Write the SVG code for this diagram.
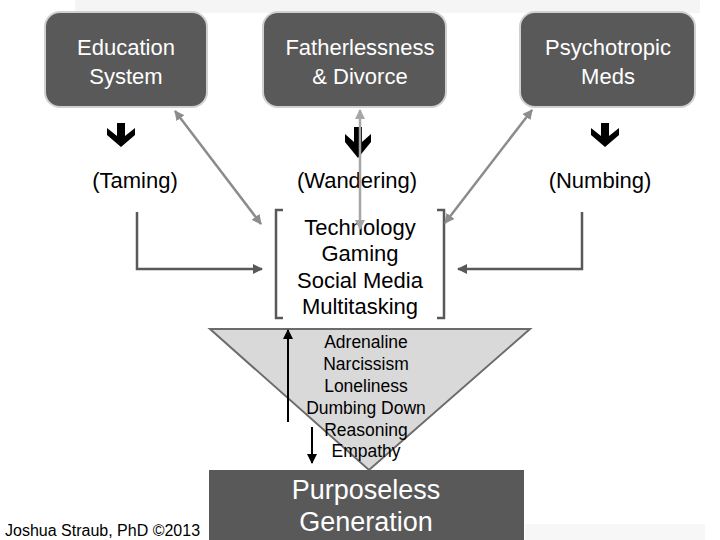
<svg xmlns="http://www.w3.org/2000/svg" width="720" height="540" viewBox="0 0 720 540">
<defs>
<style>
.box{fill:#595959;stroke:#d0d0d0;stroke-width:2}
.wt{fill:#ffffff;font-family:"Liberation Sans",Arial,sans-serif;font-size:22px;text-anchor:middle}
.bt{fill:#000000;font-family:"Liberation Sans",Arial,sans-serif;font-size:22px;text-anchor:middle}
.st{fill:#000000;font-family:"Liberation Sans",Arial,sans-serif;font-size:17.5px;text-anchor:middle}
.gl{stroke:#8c8c8c;stroke-width:2.5;fill:none}
.gl2{stroke:#a6a6a6;stroke-width:2.5;fill:none}
.dl{stroke:#595959;stroke-width:2.5;fill:none}
.kl{stroke:#000;stroke-width:2;fill:none}
</style>
<marker id="ag" viewBox="0 0 10 10" refX="9" refY="5" markerWidth="4" markerHeight="4" orient="auto-start-reverse"><path d="M0,0 L10,5 L0,10 z" fill="#8c8c8c"/></marker>
<marker id="ag2" viewBox="0 0 10 10" refX="9" refY="5" markerWidth="4" markerHeight="4" orient="auto-start-reverse"><path d="M0,0 L10,5 L0,10 z" fill="#a6a6a6"/></marker>
<marker id="ad" viewBox="0 0 10 10" refX="9" refY="5" markerWidth="4" markerHeight="4" orient="auto"><path d="M0,0 L10,5 L0,10 z" fill="#595959"/></marker>
<marker id="ak" viewBox="0 0 10 10" refX="9" refY="5" markerWidth="5" markerHeight="5" orient="auto"><path d="M0,0 L10,5 L0,10 z" fill="#000"/></marker>
</defs>
<rect x="0" y="0" width="720" height="540" fill="#ffffff"/>
<rect x="75" y="0" width="625" height="13" fill="#f5f5f5"/>
<rect x="525" y="524" width="180" height="16" fill="#f7f7f7"/>

<g id="education">
<rect class="box" x="45" y="12" width="162" height="95" rx="15"/>
<text class="wt" x="126" y="55">Education</text>
<text class="wt" x="126" y="84">System</text>
</g>
<g id="fatherlessness">
<rect class="box" x="263" y="12" width="183" height="95" rx="15"/>
<text class="wt" x="360" y="55">Fatherlessness</text>
<text class="wt" x="360" y="84">&amp; Divorce</text>
</g>
<g id="psychotropic">
<rect class="box" x="520" y="12" width="175" height="95" rx="15"/>
<text class="wt" x="608" y="55">Psychotropic</text>
<text class="wt" x="608" y="84">Meds</text>
</g>

<g id="taming"><text class="bt" x="135" y="188">(Taming)</text></g>
<g id="wandering"><text class="bt" x="357" y="188">(Wandering)</text></g>
<g id="numbing"><text class="bt" x="600" y="188">(Numbing)</text></g>

<g id="technology">
<polyline class="dl" points="283,210 276,210 276,318 283,318"/>
<polyline class="dl" points="437,210 444,210 444,318 437,318"/>
<text class="bt" x="360" y="235">Technology</text>
<text class="bt" x="360" y="261">Gaming</text>
<text class="bt" x="360" y="288">Social Media</text>
<text class="bt" x="360" y="314">Multitasking</text>
</g>

<g id="funnel">
<polygon points="210,329 530,329 369,470" fill="#d9d9d9" stroke="#6b6b6b" stroke-width="2"/>
<text class="st" x="366" y="348">Adrenaline</text>
<text class="st" x="366" y="370">Narcissism</text>
<text class="st" x="366" y="392">Loneliness</text>
<text class="st" x="366" y="414">Dumbing Down</text>
<text class="st" x="366" y="436">Reasoning</text>
<text class="st" x="366" y="457">Empathy</text>
</g>

<g id="purposeless">
<rect x="209" y="470" width="315" height="70" fill="#595959"/>
<text class="wt" x="366" y="499" style="font-size:27px">Purposeless</text>
<text class="wt" x="366" y="531" style="font-size:27px">Generation</text>
</g>

<g id="credit">
<text x="5" y="536" style="font-family:'Liberation Sans',Arial,sans-serif;font-size:16px;fill:#000">Joshua Straub, PhD ©2013</text>
</g>

<g id="connectors">
<polygon fill="#000" points="117,123 125,123 125,136 135,128 135,135 121,147 107,135 107,128 117,136"/>
<polygon fill="#000" points="354,127 362,127 362,142 371,134 371,142 358,158 345,142 345,134 354,142"/>
<polygon fill="#000" points="601,123 609,123 609,136 619,128 619,135 605,147 591,135 591,128 601,136"/>
<line class="gl" x1="175" y1="111" x2="261" y2="224" marker-start="url(#ag)" marker-end="url(#ag)"/>
<line class="gl2" x1="360" y1="110" x2="360" y2="229" marker-start="url(#ag2)" marker-end="url(#ag2)"/>
<line class="gl" x1="532" y1="110" x2="445" y2="223" marker-start="url(#ag)" marker-end="url(#ag)"/>
<polyline class="dl" points="137,212 137,269 262,269" marker-end="url(#ad)"/>
<polyline class="dl" points="582,212 582,269 458,269" marker-end="url(#ad)"/>
<line class="kl" x1="288" y1="422" x2="288" y2="330" marker-end="url(#ak)"/>
<line class="kl" x1="312" y1="427" x2="312" y2="463" marker-end="url(#ak)"/>
</g>
</svg>
